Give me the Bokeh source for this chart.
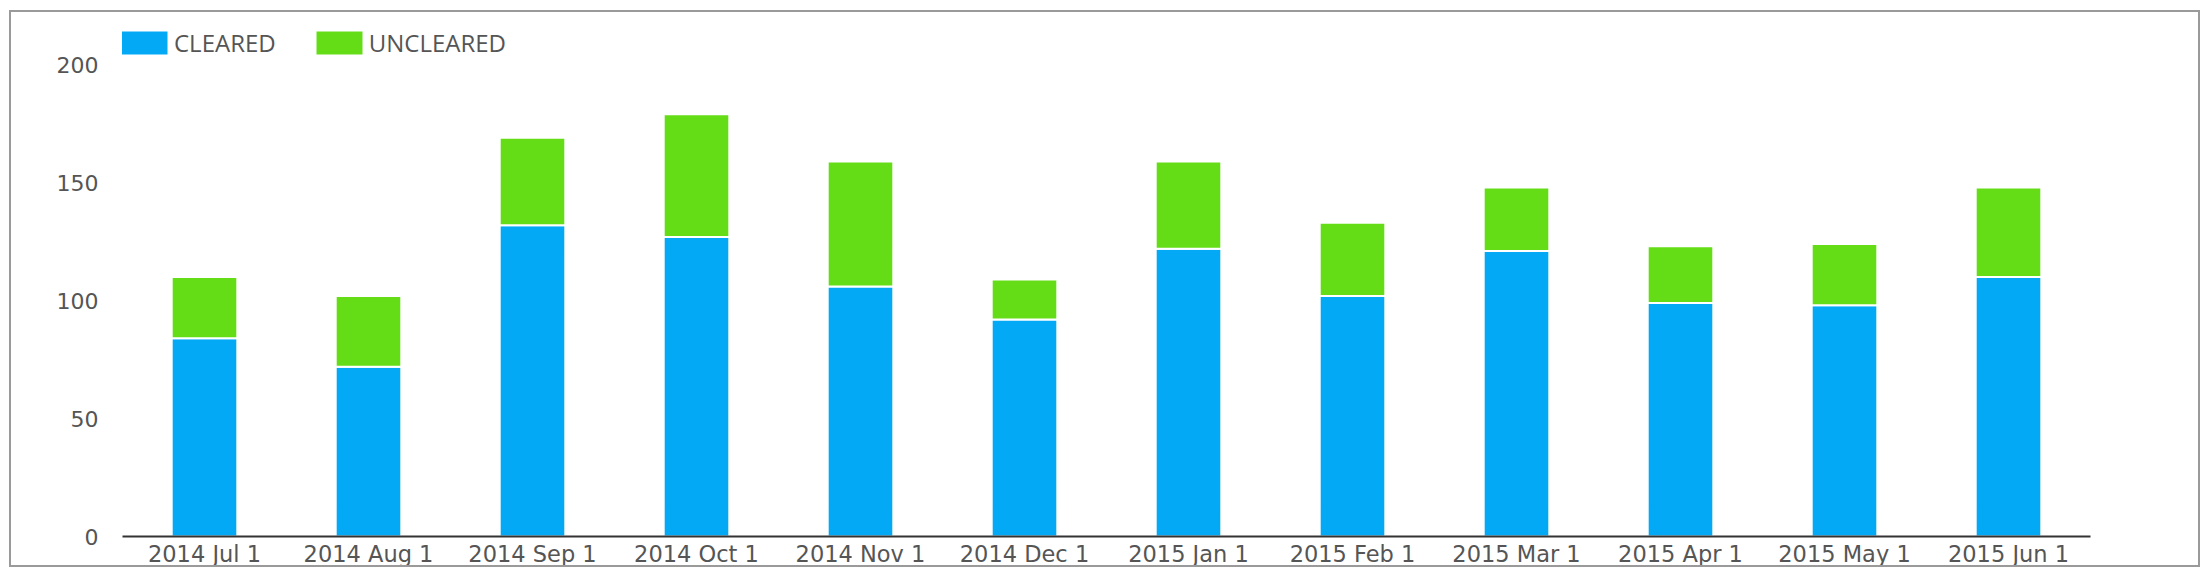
from bokeh.plotting import figure
from bokeh.models import FactorRange, Range1d, FixedTicker, Legend
from bokeh.embed import file_html
from bokeh.resources import INLINE

months = ["2014 Jul 1", "2014 Aug 1", "2014 Sep 1", "2014 Oct 1", "2014 Nov 1", "2014 Dec 1",
          "2015 Jan 1", "2015 Feb 1", "2015 Mar 1", "2015 Apr 1", "2015 May 1", "2015 Jun 1"]
cleared = [84, 72, 132, 127, 106, 92, 122, 102, 121, 99, 98, 110]
uncleared = [26, 30, 37, 52, 53, 17, 37, 31, 27, 24, 26, 38]
series = ["CLEARED", "UNCLEARED"]
colors = ["#03A9F4", "#64DD17"]
y_ticks = [0, 50, 100, 150, 200]

data = {"month": months, "CLEARED": cleared, "UNCLEARED": uncleared}

W, H = 2187, 553
p = figure(x_range=FactorRange(*months), y_range=Range1d(0, 218.76),
           width=W, height=H, output_backend="svg", toolbar_location=None,
           min_border_left=111, min_border_right=112, min_border_top=8,
           min_border_bottom=32)
p.styles = {"border": "2px solid #9a9a9a", "box-sizing": "content-box",
            "width": f"{W}px", "height": f"{H}px",
            "margin-left": "9px", "margin-top": "10px"}
p.outline_line_color = None
p.background_fill_color = "white"
p.border_fill_color = "white"
p.xgrid.grid_line_color = None
p.ygrid.grid_line_color = None

r = p.vbar_stack(series, x="month", width=0.4, color=colors, source=data,
                 line_color="white", line_width=2)

p.x_range.range_padding = 0
p.x_range.group_padding = 0

# axes
p.yaxis.ticker = FixedTicker(ticks=y_ticks)
p.yaxis.axis_line_color = None
p.yaxis.major_tick_line_color = None
p.yaxis.minor_tick_line_color = None
p.yaxis.major_tick_out = 0
p.yaxis.major_label_standoff = 24
p.yaxis.major_label_text_font = "DejaVu Sans"
p.yaxis.major_label_text_font_size = "22px"
p.yaxis.major_label_text_color = "#555555"

p.xaxis.axis_line_color = "#333333"
p.xaxis.axis_line_width = 2
p.xaxis.major_tick_line_color = None
p.xaxis.major_tick_out = 0
p.xaxis.major_label_standoff = 4
p.xaxis.major_label_text_font = "DejaVu Sans"
p.xaxis.major_label_text_font_size = "22.5px"
p.xaxis.major_label_text_color = "#555555"

legend = Legend(items=[(series[0], [r[0]]), (series[1], [r[1]])],
                location=(-8, 477), orientation="horizontal",
                glyph_width=60, glyph_height=31, label_standoff=0, spacing=33,
                padding=0, margin=0, border_line_color=None, background_fill_alpha=0,
                label_text_font="Open Sans", label_text_font_size="24px",
                label_text_color="#555555")
p.add_layout(legend, "center")

open("out.html", "w").write(file_html(p, INLINE))
